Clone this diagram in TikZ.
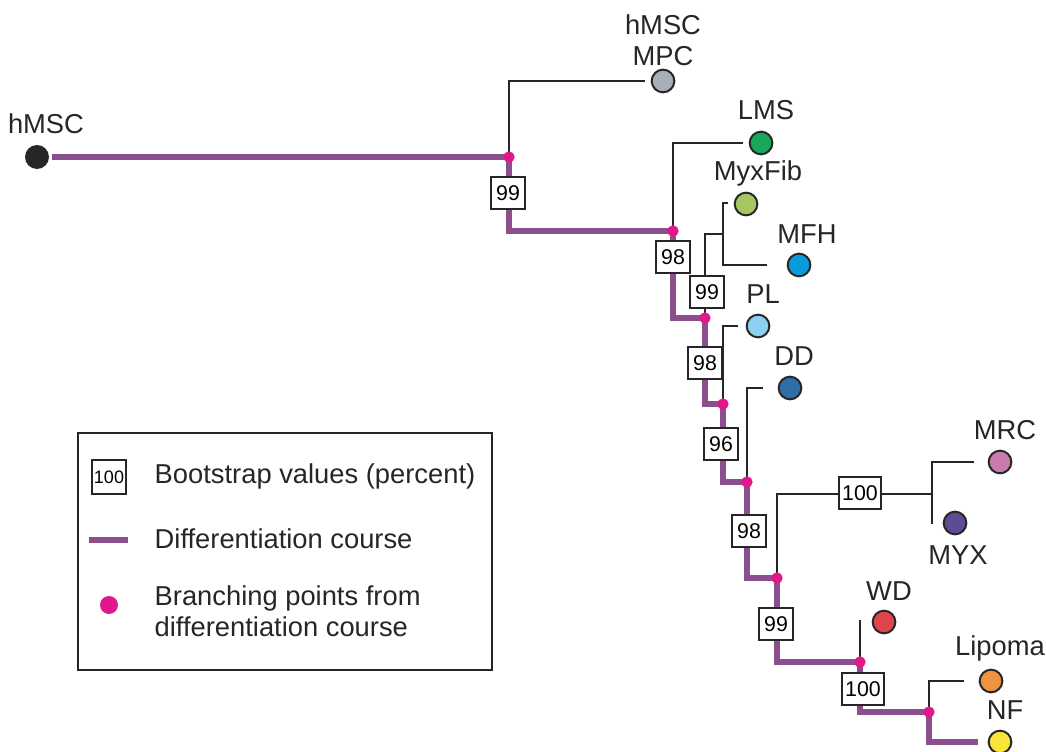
\documentclass[tikz,border=0pt]{standalone}
\usepackage{fontspec}
\setmainfont{Liberation Sans}
\usetikzlibrary{backgrounds}
\definecolor{diffpurple}{HTML}{8C4F8E}
\definecolor{branchpink}{HTML}{E2188A}
\definecolor{ink}{HTML}{262626}
\definecolor{cmpc}{HTML}{A9AEB6}
\definecolor{clms}{HTML}{17A85B}
\definecolor{cmyxfib}{HTML}{A6C862}
\definecolor{cmfh}{HTML}{0A9CDA}
\definecolor{cpl}{HTML}{8ED0EF}
\definecolor{cdd}{HTML}{2F6FA6}
\definecolor{cmrc}{HTML}{C87BAD}
\definecolor{cmyx}{HTML}{5F4B92}
\definecolor{cwd}{HTML}{E1444A}
\definecolor{clipoma}{HTML}{EC9442}
\definecolor{cnf}{HTML}{F8E43B}

\begin{document}
\begin{tikzpicture}[x=0.75pt, y=-0.75pt,
  leaf/.style={circle, draw=ink, line width=1.5pt, fill=#1, minimum size=17pt, inner sep=0pt},
  brpt/.style={circle, fill=branchpink, minimum size=8.5pt, inner sep=0pt},
  boot/.style={rectangle, draw=ink, line width=1.7pt, fill=white, minimum width=25pt, minimum height=24pt, inner sep=1pt, font=\fontsize{16}{18}\selectfont},
  lbl/.style={font=\fontsize{20.5}{23.5}\selectfont, text=ink, align=center},
  legtext/.style={font=\fontsize{20.5}{23.5}\selectfont, text=ink, anchor=west, align=left},
  diffline/.style={line width=3.8pt, draw=diffpurple},
  twig/.style={line width=1.8pt, draw=ink}
]
  \useasboundingbox (0,0) rectangle (1046,752);

  % leaves
  \node[circle, fill=ink, minimum size=18pt, inner sep=0pt] (hmsc) at (37,157) {};
  \node[leaf=cmpc] (mpc) at (663,81) {};
  \node[leaf=clms] (lms) at (761,143) {};
  \node[leaf=cmyxfib] (myxfib) at (746,204) {};
  \node[leaf=cmfh] (mfh) at (799,265) {};
  \node[leaf=cpl] (pl) at (758,326) {};
  \node[leaf=cdd] (dd) at (790,388) {};
  \node[leaf=cmrc] (mrc) at (1000,462) {};
  \node[leaf=cmyx] (myx) at (955,523) {};
  \node[leaf=cwd] (wd) at (884,622) {};
  \node[leaf=clipoma] (lipoma) at (991,681) {};
  \node[leaf=cnf] (nf) at (1000,742) {};

  \node[lbl] (lbl-hmsc) at (46,124) {hMSC};
  \node[lbl] (lbl-mpc) at (663,40) {hMSC\\MPC};
  \node[lbl] (lbl-lms) at (766,110) {LMS};
  \node[lbl] (lbl-myxfib) at (758,173) {MyxFib};
  \node[lbl] (lbl-mfh) at (807,234) {MFH};
  \node[lbl] (lbl-pl) at (763,294) {PL};
  \node[lbl] (lbl-dd) at (794,356) {DD};
  \node[lbl] (lbl-mrc) at (1005,430) {MRC};
  \node[lbl] (lbl-myx) at (958,555) {MYX};
  \node[lbl] (lbl-wd) at (889,591) {WD};
  \node[lbl] (lbl-lipoma) at (1000,648) {Lipoma};
  \node[lbl] (lbl-nf) at (1005,710) {NF};

  % branching points
  \node[brpt] (br1) at (509,157) {};
  \node[brpt] (br2) at (673,231) {};
  \node[brpt] (br3) at (705,318) {};
  \node[brpt] (br4) at (723,404) {};
  \node[brpt] (br5) at (747,482) {};
  \node[brpt] (br6) at (777,578) {};
  \node[brpt] (br7) at (860,662) {};
  \node[brpt] (br8) at (929,712) {};

  \coordinate (j1) at (723,234);
  \coordinate (t1) at (728,203);
  \coordinate (j2) at (932,494);
  \coordinate (t2) at (932,524);
  \coordinate (t3) at (860,620);

  % bootstrap values
  \node[boot] (bs1) at (508,193) {99};
  \node[boot] (bs2) at (673,257) {98};
  \node[boot] (bs3) at (707,292) {99};
  \node[boot] (bs4) at (705,363) {98};
  \node[boot] (bs5) at (721,444) {96};
  \node[boot] (bs6) at (749,531) {98};
  \node[boot, minimum width=31pt] (bs7) at (860,493) {100};
  \node[boot] (bs8) at (776,624) {99};
  \node[boot, minimum width=31pt] (bs9) at (863,689) {100};

  \begin{scope}[on background layer]
    % differentiation course
    \draw[diffline, shorten <=2pt] (hmsc.east) -- (br1.center);
    \draw[diffline] (br1.center) |- (br2.center);
    \draw[diffline] (br2.center) |- (br3.center);
    \draw[diffline] (br3.center) |- (br4.center);
    \draw[diffline] (br4.center) |- (br5.center);
    \draw[diffline] (br5.center) |- (br6.center);
    \draw[diffline] (br6.center) |- (br7.center);
    \draw[diffline] (br7.center) |- (br8.center);
    \draw[diffline, shorten >=7pt] (br8.center) |- (nf.west);
    % side branches
    \draw[twig, shorten >=4.5pt] (br1.center) |- (mpc.west);
    \draw[twig, shorten >=4.5pt] (br2.center) |- (lms.west);
    \draw[twig] (br3.center) |- (j1);
    \draw[twig, shorten >=15pt] (t1) -| (j1) |- (mfh.west);
    \draw[twig, shorten >=6pt] (br4.center) |- (pl.west);
    \draw[twig, shorten >=11pt] (br5.center) |- (dd.west);
    \draw[twig] (br6.center) |- (j2);
    \draw[twig, shorten <=10pt] (mrc.west) -| (t2);
    \draw[twig] (br7.center) -- (t3);
    \draw[twig, shorten >=11pt] (br8.center) |- (lipoma.west);
  \end{scope}

  % legend
  \node[draw=ink, line width=1.5pt, minimum width=310.5pt, minimum height=177.75pt, inner sep=0pt] (legend) at (285,551.5) {};
  \node[boot, minimum width=26pt, minimum height=25pt, inner sep=0pt, font=\fontsize{13.5}{15}\selectfont] (leg-boot) at (109,477) {100};
  \coordinate (leg-l1) at (89,540);
  \coordinate (leg-l2) at (128,540);
  \draw[diffline] (leg-l1) -- (leg-l2);
  \node[brpt, minimum size=13.5pt] (leg-br) at (109,605) {};
  \node[legtext] (txt-boot) at (150,476) {Bootstrap values (percent)};
  \node[legtext] (txt-course) at (150,539) {Differentiation course};
  \node[legtext] (txt-branch) at (150,611) {Branching points from\\differentiation course};
\end{tikzpicture}
\end{document}
